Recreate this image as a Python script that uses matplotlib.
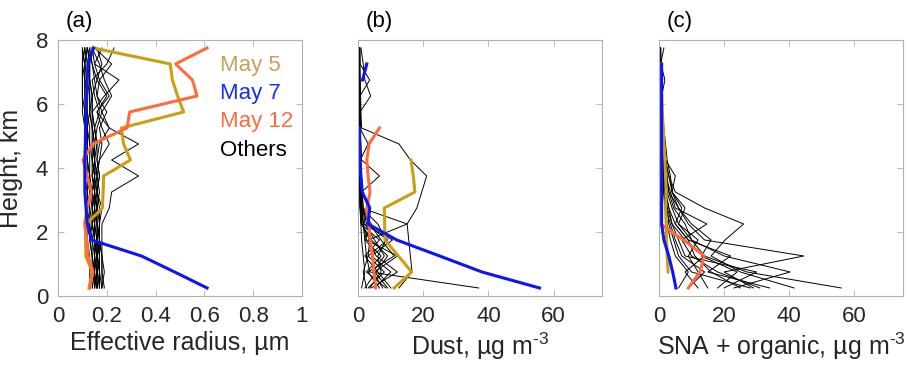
import numpy as np
import matplotlib
matplotlib.use('Agg')
import matplotlib.pyplot as plt

plt.rcParams['font.family'] = ['Liberation Sans', 'DejaVu Sans']
plt.rcParams['mathtext.fontset'] = 'custom'
plt.rcParams['mathtext.rm'] = 'Liberation Sans'
plt.rcParams['mathtext.it'] = 'Liberation Sans'

nan = np.nan

# Flight levels (km) shared by every profile
heights = [0.25, 0.75, 1.25, 1.75, 2.25, 2.75, 3.25, 3.75,
           4.25, 4.75, 5.25, 5.75, 6.25, 6.75, 7.25, 7.75]

case_names = ['May 5', 'May 7', 'May 12', 'Others']

# Effective radius profiles (um)
radius_may5 = [0.127, 0.14, 0.114, 0.113, 0.116, 0.182, 0.185, 0.187,
               0.297, 0.269, 0.26, 0.515, 0.49, 0.469, 0.46, 0.143]
radius_may7 = [0.611, 0.478, 0.342, 0.137, 0.12, 0.115, 0.11, 0.11,
               0.11, 0.112, 0.113, 0.115, 0.118, 0.12, 0.123, 0.146]
radius_may12 = [0.13, 0.143, 0.123, 0.118, 0.109, 0.12, 0.137, 0.12,
                0.102, 0.143, 0.283, 0.294, 0.57, 0.551, 0.482, 0.611]
radius_others = [
    [0.14, 0.15, 0.14, 0.13, 0.13, 0.12, 0.12, 0.12, 0.11, 0.11, 0.11, 0.10, 0.10, 0.10, 0.10, 0.11],
    [0.15, 0.16, 0.15, 0.15, 0.14, 0.14, 0.13, 0.13, 0.12, 0.12, 0.12, 0.11, 0.11, 0.11, 0.10, 0.10],
    [0.16, 0.16, 0.16, 0.15, 0.15, 0.14, 0.14, 0.13, 0.13, 0.13, 0.12, 0.12, 0.11, 0.11, 0.11, 0.12],
    [0.17, 0.17, 0.16, 0.16, 0.16, 0.15, 0.15, 0.14, 0.14, 0.13, 0.13, 0.12, 0.12, 0.12, 0.12, 0.13],
    [0.18, 0.17, 0.17, 0.17, 0.16, 0.16, 0.15, 0.15, 0.15, 0.14, 0.14, 0.13, 0.13, 0.13, 0.13, 0.14],
    [0.19, 0.18, 0.18, 0.17, 0.17, 0.17, 0.16, 0.16, 0.15, 0.15, 0.14, 0.14, 0.14, 0.13, 0.13, 0.12],
    [0.13, 0.14, 0.14, 0.13, 0.14, 0.13, 0.12, 0.13, 0.12, 0.12, 0.11, 0.11, 0.12, 0.11, 0.11, 0.10],
    [0.16, 0.17, 0.17, 0.16, 0.17, 0.18, 0.16, 0.15, 0.14, 0.15, 0.14, 0.13, 0.13, 0.12, 0.11, 0.12],
    [0.18, 0.18, 0.18, 0.18, 0.18, 0.21, 0.22, 0.33, 0.22, 0.33, 0.21, 0.18, 0.16, 0.15, 0.14, 0.13],
    [0.15, 0.16, 0.17, 0.16, 0.15, 0.16, 0.17, 0.16, 0.17, 0.18, 0.17, 0.20, 0.16, 0.17, 0.15, 0.14],
    [0.17, 0.16, 0.16, 0.17, 0.16, 0.15, 0.16, 0.17, 0.16, 0.17, 0.21, 0.16, 0.21, 0.17, 0.22, 0.15],
    [0.14, 0.15, 0.16, 0.15, 0.14, 0.15, 0.14, 0.15, 0.14, 0.14, 0.15, 0.14, 0.19, 0.25, 0.15, 0.18],
    [0.16, 0.15, 0.15, 0.14, 0.15, 0.14, 0.15, 0.14, 0.15, 0.16, 0.15, 0.17, 0.15, 0.14, 0.20, 0.23],
    [0.15, 0.15, 0.14, 0.14, 0.13, 0.13, 0.13, 0.12, 0.12, 0.12, 0.12, 0.13, 0.14, 0.16, 0.18, 0.16],
    [0.17, 0.17, 0.16, 0.16, 0.15, 0.15, 0.14, 0.15, 0.17, 0.21, 0.18, 0.16, 0.20, 0.16, 0.14, 0.12],
    [0.13, 0.13, 0.13, 0.12, 0.12, 0.12, 0.12, 0.11, 0.11, 0.11, 0.11, 0.11, 0.10, 0.10, 0.10, 0.11],
    [0.16, 0.16, 0.15, 0.16, 0.16, 0.16, 0.15, 0.16, 0.15, 0.15, 0.16, 0.18, 0.22, 0.19, 0.17, 0.14],
    [0.18, 0.19, 0.18, 0.17, 0.17, 0.16, 0.16, 0.17, 0.16, 0.16, 0.15, 0.14, 0.14, 0.13, 0.12, 0.11],
]

# Dust mass concentration profiles (ug m-3)
dust_may5 = [11.0, 16.4, 12.3, 8.2, 8.1, 8.0, 17.4, 16.9, 16.2,
             nan, nan, nan, nan, nan, nan, nan]
dust_may7 = [55.7, 38.0, 25.0, 11.8, 3.0, 3.5, 1.2, 0.8, 0.5, 0.3, 0.5,
             nan, nan, 1.3, 2.6, nan]
dust_may12 = [5.4, 4.8, 4.4, 3.6, 3.3, 2.6, 3.6, 3.0, 2.6, 3.3, 6.5,
              nan, nan, nan, nan, nan]
dust_others = [
    [37.0, 3.5, 2.5, 2.0, 1.5, 1.0, 0.8, 0.6, 0.5, 0.5, 0.4, 0.4, 0.3, 0.3, 0.3, 0.3],
    [12.5, 16.5, 16.0, 15.5, 15.0, 18.0, 19.5, 21.0, 16.0, 12.5, 1.0, 0.8, 0.7, 0.6, 0.5, 0.5],
    [3.0, 8.0, 3.0, 9.0, 2.5, 1.5, 1.0, 6.5, 1.0, 0.8, 0.6, 0.5, 0.5, 3.5, 0.5, 0.4],
    [8.5, 2.5, 7.0, 2.0, 4.0, 1.0, 0.8, 0.7, 0.6, 3.0, 0.5, 0.5, 0.4, 0.4, 0.3, 0.3],
    [5.0, 10.0, 4.0, 10.5, 1.5, 1.0, 0.8, 0.6, 0.5, 0.4, 0.4, 0.3, 0.3, 0.3, 0.3, 0.2],
    [2.0, 5.5, 9.0, 4.0, 1.0, 0.8, 0.6, 0.5, 0.4, 0.4, 0.3, 0.3, 0.3, 0.2, 0.2, 0.2],
    [10.0, 6.0, 2.0, 6.5, 0.8, 0.6, 0.5, 0.4, 0.4, 0.3, 0.3, 0.3, 0.2, 0.2, 0.2, 0.2],
    [6.5, 3.0, 11.0, 7.0, 3.5, 0.5, 0.4, 0.4, 0.3, 0.3, 0.3, 0.2, 0.2, 0.2, 0.2, 0.2],
    [1.0, 2.0, 1.5, 1.0, 0.8, 0.5, 0.4, 0.3, 0.3, 0.3, 0.2, 0.2, 0.2, 0.2, 0.2, 0.2],
    [4.0, 12.0, 5.5, 3.0, 15.0, 1.0, 0.8, 0.7, 0.6, 0.5, 0.5, 0.4, 0.4, 0.4, 0.4, 0.4],
    [7.5, 4.5, 8.0, 5.0, 2.0, 1.5, 1.2, 1.0, 0.8, 0.7, 0.6, 0.5, 3.8, 2.0, 1.5, 0.8],
    [3.5, 7.0, 6.0, 8.5, 6.0, 1.0, 0.9, 0.8, 0.7, 0.6, 0.5, 0.4, 0.4, 0.3, 0.3, 0.3],
    [9.0, 5.0, 12.0, 2.5, 1.5, 1.2, 1.0, 0.8, 0.7, 0.6, 0.5, 0.5, 0.5, 0.4, 0.4, 0.4],
    [2.5, 1.5, 3.0, 3.5, 1.0, 0.7, 0.5, 0.5, 0.4, 0.4, 0.3, 0.3, 0.3, 0.3, 0.3, 0.3],
]

# Sulfate-nitrate-ammonium plus organic profiles (ug m-3)
sna_may5 = [nan, 2.8, 2.5, 2.3, 2.2, 2.0, 2.2, 2.0, 1.8, 1.5, 1.3, 1.0,
            0.8, 0.6, nan, nan]
sna_may7 = [5.2, 4.2, 3.0, 1.5, 0.8, 0.8, 0.8, 0.8, 0.8, 0.8, 0.8, 0.8,
            0.8, 0.8, 0.8, nan]
sna_may12 = [9.0, 12.6, 13.9, 7.5, 0.4, 0.4, 0.4, 0.4, 0.4, 0.4, 0.4, 0.4,
             0.4, 0.4, 0.4, nan]
sna_others = [
    [56.0, 27.0, 14.0, 8.0, 4.0, 2.5, 1.8, 1.2, 1.0, 0.8, 0.6, 0.5, 0.4, 0.4, 0.3, 0.3],
    [29.0, 20.0, 44.5, 14.0, 9.0, 6.0, 3.0, 2.0, 1.5, 1.0, 0.8, 0.6, 0.5, 0.4, 0.4, 0.3],
    [41.5, 25.0, 16.0, 20.3, 26.0, 14.0, 5.0, 3.0, 2.0, 1.5, 1.0, 0.7, 0.5, 0.4, 0.4, 0.3],
    [23.0, 40.3, 20.0, 10.0, 6.0, 4.0, 2.5, 1.8, 1.2, 0.9, 0.7, 0.6, 0.5, 0.5, 0.4, 0.4],
    [31.0, 18.0, 10.0, 7.0, 14.7, 5.0, 3.5, 2.0, 1.5, 1.0, 0.8, 0.6, 0.5, 0.5, 0.4, 0.4],
    [15.0, 12.0, 9.0, 12.0, 6.0, 8.0, 4.0, 3.0, 2.0, 1.5, 1.0, 0.8, 0.6, 0.5, 0.5, 1.5],
    [20.0, 30.0, 8.0, 6.0, 4.0, 3.0, 2.0, 1.5, 1.2, 1.0, 0.8, 0.6, 0.5, 0.4, 0.4, 0.4],
    [34.0, 15.0, 22.0, 9.0, 5.0, 3.0, 2.2, 1.6, 1.2, 1.0, 0.8, 0.7, 0.6, 0.5, 0.4, 0.4],
    [12.0, 8.0, 14.0, 10.0, 8.0, 4.5, 3.0, 2.5, 1.8, 1.2, 1.0, 0.8, 0.7, 0.6, 0.5, 0.5],
    [28.0, 10.0, 6.0, 4.5, 3.0, 2.5, 2.0, 1.5, 1.0, 0.8, 0.6, 0.5, 0.5, 0.4, 0.4, 0.4],
    [18.0, 24.0, 13.0, 16.0, 10.0, 6.0, 4.0, 3.5, 2.5, 2.0, 1.5, 1.0, 0.8, 0.6, 0.5, 0.5],
    [9.0, 14.0, 7.0, 5.0, 3.5, 2.0, 1.5, 1.2, 1.0, 0.8, 0.6, 0.5, 0.5, 0.4, 0.4, 0.4],
    [25.0, 16.0, 11.0, 9.0, 5.0, 7.0, 4.0, 5.0, 2.0, 1.5, 1.2, 1.0, 0.8, 1.8, 0.6, 0.5],
    [6.0, 9.0, 5.0, 3.5, 2.5, 1.8, 1.4, 1.1, 0.9, 0.7, 0.6, 0.5, 0.4, 0.4, 0.3, 0.3],
]

# Line colours and the slightly lighter text colours used for the labels
line_colors = ['#CC9E12', '#0A14F5', '#FF6B3D', 'black']
text_colors = ['#C9A060', '#1032F5', '#FF6B3D', 'black']
tick_color = '#262626'
edge_color = '#B0B0B0'


# Draws one panel: thin black profiles first, then the three highlighted days
def draw_panel(ax, others, may5, may7, may12, xlim, xticks, tag):
    for prof in others:
        ax.plot(prof, heights, color='black', lw=0.7)
    ax.plot(may5, heights, color=line_colors[0], lw=2.2)
    ax.plot(may12, heights, color=line_colors[2], lw=2.2)
    ax.plot(may7, heights, color=line_colors[1], lw=2.2)
    ax.set_xlim(xlim)
    ax.set_ylim(0, 8)
    ax.set_xticks(xticks)
    ax.set_yticks([0, 2, 4, 6, 8])
    ax.tick_params(direction='in', length=4, width=0.6, color=edge_color,
                   labelcolor=tick_color, labelsize=16, top=True, right=True, pad=7)
    for sp in ax.spines.values():
        sp.set_color(edge_color)
        sp.set_linewidth(0.8)
    ax.text(0.03, 1.03, tag, transform=ax.transAxes, fontsize=16,
            color='black', ha='left', va='bottom')


fig = plt.figure(figsize=(9.09, 3.68), dpi=100)
ax_a = fig.add_axes([0.0638, 0.1957, 0.2684, 0.6957])
ax_b = fig.add_axes([0.3942, 0.1957, 0.2684, 0.6957])
ax_c = fig.add_axes([0.7250, 0.1957, 0.2684, 0.6957])

draw_panel(ax_a, radius_others, radius_may5, radius_may7, radius_may12,
           (0, 1), [0, 0.2, 0.4, 0.6, 0.8, 1], '(a)')
ax_a.set_xticklabels(['0', '0.2', '0.4', '0.6', '0.8', '1'])
ax_a.set_xlabel('Effective radius, µm', fontsize=18, color=tick_color, labelpad=3)
ax_a.set_ylabel('Height, km', fontsize=18, color=tick_color)
ax_a.yaxis.set_label_coords(-0.143, 0.5)

draw_panel(ax_b, dust_others, dust_may5, dust_may7, dust_may12,
           (0, 75), [0, 20, 40, 60], '(b)')
ax_b.set_yticklabels([])
ax_b.set_xlabel('Dust, µg m$^{\u2010 3}$', fontsize=18, color=tick_color, labelpad=3)

draw_panel(ax_c, sna_others, sna_may5, sna_may7, sna_may12,
           (0, 75), [0, 20, 40, 60], '(c)')
ax_c.set_yticklabels([])
ax_c.set_xlabel('SNA + organic, µg m$^{\u2010 3}$', fontsize=18, color=tick_color, labelpad=3)

# Day labels stacked to the right of the radius profiles
for i, name in enumerate(case_names):
    ax_a.text(0.665, 0.9 - i * 0.11, name, transform=ax_a.transAxes,
              fontsize=16, color=text_colors[i], ha='left', va='center')

fig.savefig('out.png', dpi=100)
